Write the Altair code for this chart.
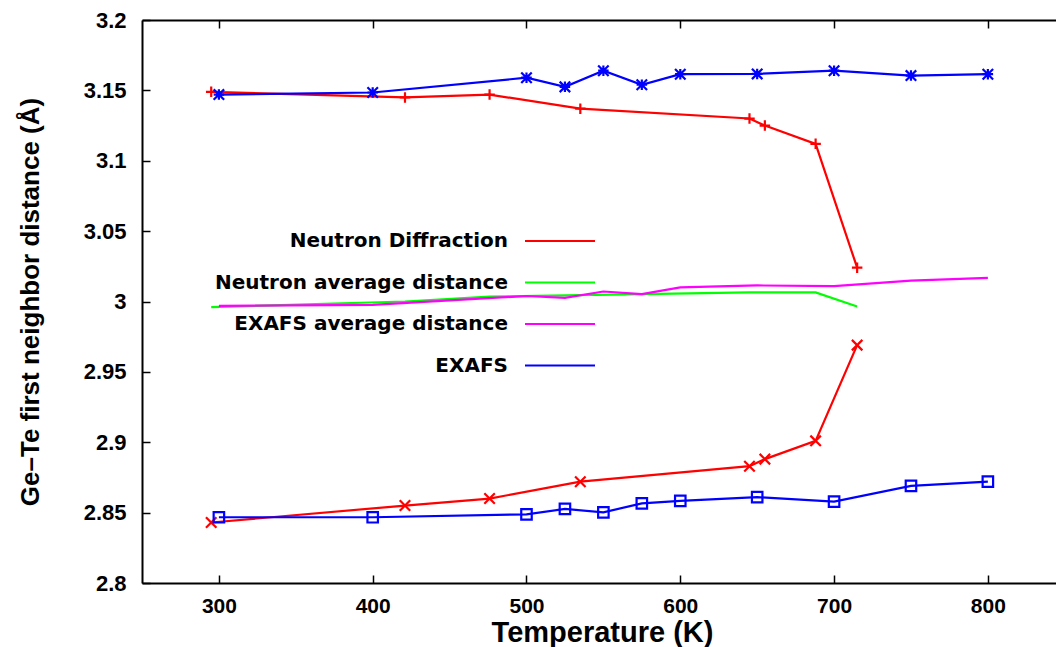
import altair as alt
import pandas as pd

# Ge-Te first-neighbour distances vs temperature
nd_temp = [295, 421, 476, 535, 645, 655, 688, 715]
nd_long = [3.149, 3.145, 3.147, 3.137, 3.130, 3.125, 3.112, 3.024]
nd_short = [2.843, 2.855, 2.860, 2.872, 2.883, 2.888, 2.901, 2.969]
nd_avg = [2.996, 3.000, 3.0035, 3.0045, 3.0065, 3.0065, 3.0065, 2.9965]

ex_temp = [300, 400, 500, 525, 550, 575, 600, 650, 700, 750, 800]
ex_long = [3.147, 3.1485, 3.159, 3.1525, 3.164, 3.154, 3.1615, 3.1617, 3.164, 3.1605, 3.1615]
ex_short = [2.8467, 2.8467, 2.8488, 2.8526, 2.8502, 2.8566, 2.8584, 2.861, 2.8578, 2.869, 2.872]
ex_avg = [2.9969, 2.9976, 3.0039, 3.0026, 3.0071, 3.0053, 3.0100, 3.0114, 3.0109, 3.0148, 3.0168]

series_names = ["Neutron Diffraction", "Neutron average distance",
                "EXAFS average distance", "EXAFS"]
series_colors = ["#ff0000", "#00ff00", "#ff00ff", "#0000ff"]

x_ticks = [300, 400, 500, 600, 700, 800]
y_ticks = [2.8, 2.85, 2.9, 2.95, 3.0, 3.05, 3.1, 3.15, 3.2]

rows = []
def add(branch, series, temps, vals, marked):
    for t, v in zip(temps, vals):
        rows.append({"T": t, "d": v, "branch": branch, "series": series, "marked": marked})

add("nd_long", series_names[0], nd_temp, nd_long, True)
add("nd_short", series_names[0], nd_temp, nd_short, True)
add("nd_avg", series_names[1], nd_temp, nd_avg, False)
add("ex_avg", series_names[2], ex_temp, ex_avg, False)
add("ex_long", series_names[3], ex_temp, ex_long, True)
add("ex_short", series_names[3], ex_temp, ex_short, True)
df = pd.DataFrame(rows)
pts = df[df["marked"]]

PLUS = "M-1,0H1M0,-1V1"
CROSS = "M-1,-1L1,1M-1,1L1,-1"
STAR = PLUS + CROSS

FONT = "Liberation Sans"
KEY_FONT = "DejaVu Sans"
W, H = 914, 563

x_scale = alt.Scale(domain=[250, 844.3], nice=False, zero=False)
y_scale = alt.Scale(domain=[2.8, 3.2], nice=False, zero=False)
color_scale = alt.Scale(domain=series_names, range=series_colors)

# key text right-aligned; the line sample path sits to the right of the text
legend = alt.Legend(
    title=None, orient="none", legendX=344, legendY=210, padding=0,
    symbolType="M2.8,0H9.8", symbolSize=400, symbolStrokeWidth=2,
    labelAlign="right", labelOffset=0, labelFont=KEY_FONT, labelFontSize=20,
    labelFontWeight="bold", labelColor="black", labelLimit=500, rowPadding=20.5,
)

x_main = alt.X("T:Q", scale=x_scale, axis=alt.Axis(
    orient="bottom", values=x_ticks, ticks=False, grid=False,
    domainColor="black", domainWidth=2, labelFont=FONT, labelFontSize=21,
    labelFontWeight="bold", labelColor="black", labelPadding=12,
    title="Temperature (K)", titleFont=FONT, titleFontSize=29, titleFontWeight="bold",
    titleColor="black", titleX=460, titleY=35, titleBaseline="top"))
y_main = alt.Y("d:Q", scale=y_scale, axis=alt.Axis(
    orient="left", values=y_ticks, format="~g", ticks=False, grid=False,
    domainColor="black", domainWidth=2, labelFont=FONT, labelFontSize=22,
    labelFontWeight="bold", labelColor="black", labelPadding=16,
    title="Ge–Te first neighbor distance (Å)", titleFont=FONT, titleFontSize=26,
    titleFontWeight="bold", titleColor="black", titlePadding=40))

lines = alt.Chart(df).mark_line(strokeWidth=2.2).encode(
    x=x_main, y=y_main,
    color=alt.Color("series:N", scale=color_scale, legend=legend),
    detail="branch:N",
)

points = alt.Chart(pts).mark_point(filled=False, size=110, strokeWidth=2.2, opacity=1).encode(
    x=alt.X("T:Q", scale=x_scale, axis=None),
    y=alt.Y("d:Q", scale=y_scale, axis=None),
    color=alt.Color("series:N", scale=color_scale, legend=None),
    shape=alt.Shape("branch:N", scale=alt.Scale(
        domain=["nd_long", "nd_short", "ex_long", "ex_short"],
        range=[PLUS, CROSS, STAR, "square"]), legend=None),
)

# inward ticks along the bottom and left edges
ticks_in = alt.Chart(pts).mark_point(opacity=0).encode(
    x=alt.X("T:Q", scale=x_scale, axis=alt.Axis(
        orient="top", offset=-H, values=x_ticks, labels=False, domain=False,
        grid=False, tickSize=8, tickWidth=1.5, tickColor="black", title=None)),
    y=alt.Y("d:Q", scale=y_scale, axis=alt.Axis(
        orient="right", offset=-W, values=y_ticks, labels=False, domain=False,
        grid=False, tickSize=8, tickWidth=1.5, tickColor="black", title=None)),
)

# top border with inward ticks
ticks_top = alt.Chart(pts).mark_point(opacity=0).encode(
    x=alt.X("T:Q", scale=x_scale, axis=alt.Axis(
        orient="bottom", offset=-H, values=x_ticks, labels=False, domain=True,
        domainColor="black", domainWidth=2, grid=False, tickSize=8,
        tickWidth=1.5, tickColor="black", title=None)),
    y=alt.Y("d:Q", scale=y_scale, axis=None),
)

chart = alt.layer(lines, points, ticks_in, ticks_top).resolve_axis(
    x="independent", y="independent"
).properties(
    width=W, height=H,
    autosize=alt.AutoSizeParams(type="none"),
    padding={"left": 142, "top": 20, "right": 0, "bottom": 64},
    background="white",
).configure_view(stroke=None)

chart.save("out.html", embed_options={"renderer": "svg", "actions": False})
